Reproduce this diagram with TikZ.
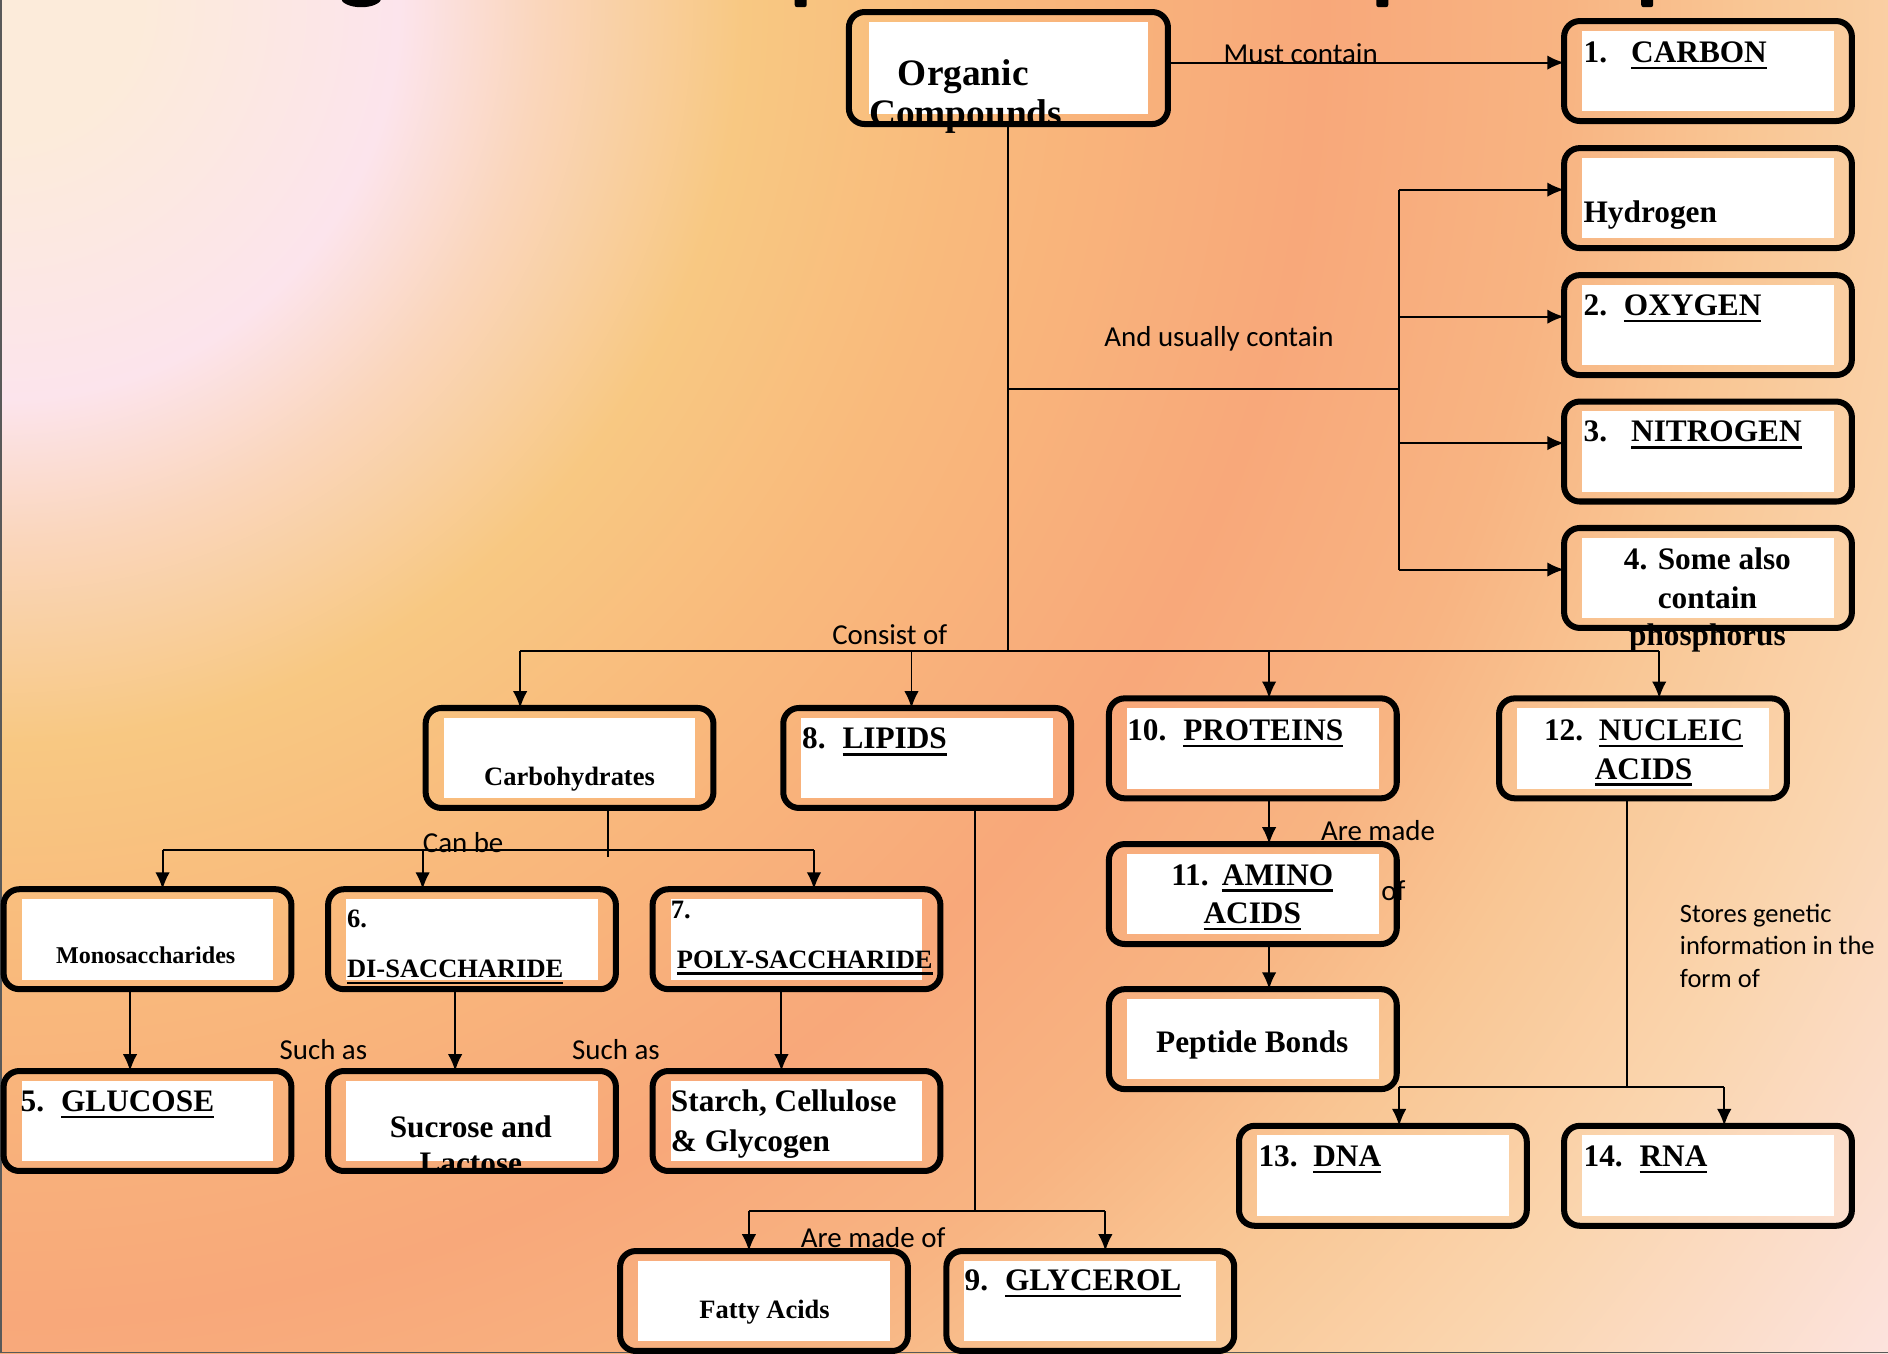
\documentclass[tikz,border=0pt]{standalone}
\usepackage{fontspec}
\setmainfont{Liberation Serif}
\newfontfamily\notefont{Carlito}
\usetikzlibrary{arrows.meta}
\newcommand{\undl}[1]{\leavevmode\setbox0=\hbox{#1}\rlap{\rule[-5.5pt]{\wd0}{2pt}}\box0}

\definecolor{bgA}{RGB}{252,235,218}
\definecolor{bgB}{RGB}{252,228,236}
\definecolor{bgC}{RGB}{250,214,188}
\definecolor{bgD}{RGB}{248,200,130}
\definecolor{bgE}{RGB}{249,186,124}
\definecolor{bgF}{RGB}{248,168,122}
\definecolor{bgG}{RGB}{248,180,130}
\definecolor{bgH}{RGB}{249,198,148}
\definecolor{bgI}{RGB}{250,213,174}
\definecolor{bgJ}{RGB}{252,227,222}
\pgfdeclareradialshading{slidebg}{\pgfpointorigin}{color(0bp)=(bgA); color(1.5bp)=(bgA);
  color(4.3bp)=(bgB); color(5.8bp)=(bgC); color(8bp)=(bgD); color(10.4bp)=(bgE);
  color(14.2bp)=(bgF); color(16.8bp)=(bgG); color(18.8bp)=(bgH); color(21.4bp)=(bgI);
  color(25bp)=(bgJ); color(50bp)=(bgJ)}

\begin{document}
\begin{tikzpicture}[x=1pt, y=-1pt,
  box/.style={fill=white, minimum width=209pt, minimum height=67pt, inner sep=0pt,
    outer xsep=15pt, outer ysep=8pt},
  rim/.style={draw, line width=5pt, rounded corners=13pt},
  txt/.style={font=\fontsize{26}{32}\selectfont\bfseries, inner sep=0pt},
  sml/.style={font=\fontsize{22}{27}\selectfont\bfseries, inner sep=0pt},
  note/.style={font=\notefont\fontsize{24}{29}\selectfont, inner sep=0pt, anchor=base west},
  link/.style={line width=1.6pt},
  arr/.style={line width=1.6pt, -{Latex[length=14pt,width=12pt]}}]
\useasboundingbox (0,0) rectangle (1568,1124);
\begin{scope}
  \clip (0,0) rectangle (1568,1124);
  \shade[shading=slidebg] (0,0) circle (1930pt);
\end{scope}
\draw[black!65, line width=1.5pt] (0.75,0) -- (0.75,1123.25) -- (1568,1123.25);
% cut-off title
\fill (300,-2) ellipse (17 and 8);
\foreach \x in {665,1148,1368}
  \fill[rounded corners=2pt] (\x-5,-5) rectangle (\x+5,6);

% labels on the links
\node[note] (must) at (1016,53) {Must contain};
\node[note] (usual) at (917,288) {And usually contain};
\node[note] (consist) at (691,535) {Consist of};
\node[note] (canbe) at (351,708) {Can be};
\node[note] (such1) at (232,880) {Such as};
\node[note] (such2) at (475,880) {Such as};
\node[note] (madeof) at (665,1036) {Are made of};
\node[note] (made) at (1097,698) {Are made};
\node[note] (madeo) at (1147,748) {of};
\node[note, font=\notefont\fontsize{22}{27}\selectfont] (store1) at (1395,766) {Stores genetic};
\node[note, font=\notefont\fontsize{22}{27}\selectfont] (store2) at (1395,793) {information in the};
\node[note, font=\notefont\fontsize{22}{27}\selectfont] (store3) at (1395,820) {form of};

% boxes
\node[box, minimum width=231pt, minimum height=77pt, outer xsep=17pt] (org) at (837.5,56.5) {};
\node[box] (carbon) at (1418.5,59) {};
\node[box] (hydro) at (1418.5,164.5) {};
\node[box] (oxy) at (1418.5,270) {};
\node[box] (nitro) at (1418.5,375) {};
\node[box] (phos) at (1418.5,480) {};
\node[box] (carb) at (473,629.5) {};
\node[box] (lipid) at (770,629.5) {};
\node[box] (prot) at (1040.5,621.5) {};
\node[box] (nucl) at (1364.5,621.5) {};
\node[box] (amino) at (1040.5,742.5) {};
\node[box] (pept) at (1040.5,863) {};
\node[box] (mono) at (122.5,780) {};
\node[box] (di) at (392,780) {};
\node[box] (poly) at (661.5,780) {};
\node[box] (gluc) at (122.5,931) {};
\node[box] (sucr) at (392,931) {};
\node[box] (starch) at (661.5,931) {};
\node[box] (fatty) at (634.5,1080.5) {};
\node[box] (glyc) at (905.5,1080.5) {};
\node[box] (dna) at (1148.5,976.5) {};
\node[box] (rna) at (1418.5,976.5) {};

% box texts
\node[txt, font=\fontsize{31}{33}\selectfont\bfseries, anchor=base] (org-a) at (800,71) {Organic};
\node[txt, font=\fontsize{31}{33}\selectfont\bfseries, anchor=base] (org-b) at (802,104) {Compounds};
\node[txt, anchor=base west] (carbon-t) at (1315,52) {1.\hspace{20pt}\undl{CARBON}};
\node[txt, anchor=base west] (hydro-t) at (1315,185) {Hydrogen};
\node[txt, anchor=base west] (oxy-t) at (1315,262) {2.\hspace{14pt}\undl{OXYGEN}};
\node[txt, anchor=base west] (nitro-t) at (1315,367) {3.\hspace{20pt}\undl{NITROGEN}};
\node[txt, anchor=base] (phos-a) at (1418,473) {4. Some also};
\node[txt, anchor=base] (phos-b) at (1418,505) {contain};
\node[txt, anchor=base] (phos-c) at (1418,536) {phosphorus};
\node[sml, anchor=base] (carb-t) at (473,652) {Carbohydrates};
\node[txt, anchor=base west] (lipid-t) at (666,622) {8.\hspace{14pt}\undl{LIPIDS}};
\node[txt, anchor=base west] (prot-t) at (936,615) {10.\hspace{14pt}\undl{PROTEINS}};
\node[txt, anchor=base] (nucl-a) at (1365,615) {12.\hspace{13pt}\undl{NUCLEIC}};
\node[txt, anchor=base] (nucl-b) at (1365,647) {\undl{ACIDS}};
\node[txt, anchor=base] (amino-a) at (1040,735) {11.\hspace{11pt}\undl{AMINO}};
\node[txt, anchor=base] (amino-b) at (1040,767) {\undl{ACIDS}};
\node[txt, anchor=base] (pept-t) at (1040,874) {Peptide Bonds};
\node[sml, font=\fontsize{20}{24}\selectfont\bfseries, anchor=base] (mono-t) at (121,800) {Monosaccharides};
\node[sml, anchor=base west] (di-a) at (288,770) {6.};
\node[sml, anchor=base west] (di-b) at (288,812) {\undl{DI-SACCHARIDE}};
\node[sml, anchor=base west] (poly-a) at (557,763) {7.};
\node[sml, anchor=base west] (poly-b) at (562,804) {\undl{POLY-SACCHARIDE}};
\node[txt, anchor=base west] (gluc-t) at (17,923) {5.\hspace{14pt}\undl{GLUCOSE}};
\node[txt, anchor=base] (sucr-a) at (391,945) {Sucrose and};
\node[txt, anchor=base] (sucr-b) at (391,975) {Lactose};
\node[txt, anchor=base west] (starch-a) at (557,923) {Starch, Cellulose};
\node[txt, anchor=base west] (starch-b) at (557,956) {\& Glycogen};
\node[sml, anchor=base] (fatty-t) at (635,1095) {Fatty Acids};
\node[txt, anchor=base west] (glyc-t) at (801,1072) {9.\hspace{14pt}\undl{GLYCEROL}};
\node[txt, anchor=base west] (dna-t) at (1045,969) {13.\hspace{13pt}\undl{DNA}};
\node[txt, anchor=base west] (rna-t) at (1315,969) {14.\hspace{14pt}\undl{RNA}};

\foreach \b in {org,carbon,hydro,oxy,nitro,phos,carb,lipid,prot,nucl,amino,pept,
    mono,di,poly,gluc,sucr,starch,fatty,glyc,dna,rna}
  \draw[rim] (\b.south west) rectangle (\b.north east);

% links
\draw[arr] ([yshift=4.5pt]org.east) -- ([yshift=4.5pt]org.east -| carbon.west);
\coordinate (fork) at (838,541);
\coordinate (elem) at (1162,323);
\draw[link] (org.south) -- (org.south |- fork);
\draw[link] (org.south |- elem) -- (elem);
\draw[link] ([yshift=7pt]hydro.west -| elem) -- ([yshift=7pt]phos.west -| elem);
\foreach \b in {hydro,oxy,nitro,phos}
  \draw[arr] ([yshift=7pt]\b.west -| elem) -- ([yshift=7pt]\b.west);
\draw[link] (432,541) -- (1378,541);
\foreach \x/\b in {432/carb, 757/lipid, 1054/prot, 1378/nucl}
  \draw[arr] (\x,541) -- (\x,541 |- \b.north);
\coordinate (cj) at (505,706);
\draw[link] (carb.south -| cj) -- ([yshift=-6pt]cj);
\draw[link] (135,706) -- (676,706);
\foreach \x/\b in {135/mono, 351/di, 676/poly}
  \draw[arr] (\x,706) -- (\x,706 |- \b.north);
\foreach \a/\b/\s in {mono/gluc/-14.5, di/sucr/-14, poly/starch/-12.5, prot/amino/13.5, amino/pept/13.5}
  \draw[arr] ([xshift=\s pt]\a.south) -- ([xshift=\s pt]\b.north);
\coordinate (lj) at (810,1006);
\draw[link] (lipid.south -| lj) -- (lj);
\draw[link] (622,1006) -- (918,1006);
\foreach \x/\b in {622/fatty, 918/glyc}
  \draw[arr] (\x,1006) -- (\x,1006 |- \b.north);
\coordinate (nj) at (1351,903);
\draw[link] (nucl.south -| nj) -- (nj);
\draw[link] (1162,903) -- (1432,903);
\foreach \x/\b in {1162/dna, 1432/rna}
  \draw[arr] (\x,903) -- (\x,903 |- \b.north);
\end{tikzpicture}
\end{document}
